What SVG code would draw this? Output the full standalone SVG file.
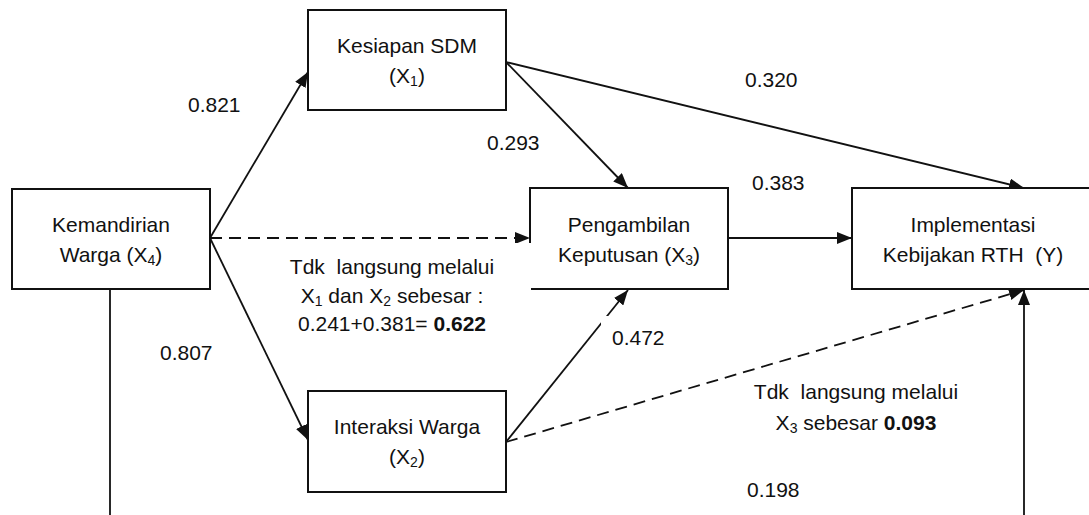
<svg xmlns="http://www.w3.org/2000/svg" width="1089" height="515" viewBox="0 0 1089 515">
<defs>
<marker id="arr" markerUnits="userSpaceOnUse" markerWidth="16" markerHeight="12" refX="15" refY="6" orient="auto">
<path d="M0,0 L15,6 L0,12 z" fill="#111"/>
</marker>
<style>
.box{fill:#fff;stroke:#111;stroke-width:2}
.ln{fill:none;stroke:#111;stroke-width:1.8}
.dash{stroke-dasharray:12 7}
text{font-family:"Liberation Sans",Arial,sans-serif;font-size:21px;fill:#111}
.c{text-anchor:middle}
.b{font-weight:bold}
.sub{font-size:14px}
</style>
</defs>
<rect width="1089" height="515" fill="#fff"/>
<g id="connectors">
<path class="ln" d="M210,238 L308,72" marker-end="url(#arr)"/>
<path class="ln dash" d="M210,238 L530,238" marker-end="url(#arr)"/>
<path class="ln" d="M210,238 L308,440" marker-end="url(#arr)"/>
<path class="ln" d="M506,62 L628,188" marker-end="url(#arr)"/>
<path class="ln" d="M506,62 L1024,188" marker-end="url(#arr)"/>
<path class="ln" d="M728,238 L852,238" marker-end="url(#arr)"/>
<path class="ln" d="M506,442 L628,290" marker-end="url(#arr)"/>
<path class="ln dash" d="M506,442 L1024,290" marker-end="url(#arr)"/>
<path class="ln" d="M110,289 L110,515"/>
<path class="ln" d="M1024,515 L1024,290" marker-end="url(#arr)"/>
</g>
<g id="node-x4">
<rect class="box" x="12" y="189" width="198" height="100"/>
<text class="c" x="111" y="232">Kemandirian</text>
<text class="c" x="111" y="262">Warga (X<tspan class="sub" baseline-shift="-3">4</tspan>)</text>
</g>
<g id="node-x1">
<rect class="box" x="308" y="10" width="198" height="100"/>
<text class="c" x="407" y="53">Kesiapan SDM</text>
<text class="c" x="407" y="83">(X<tspan class="sub" baseline-shift="-3">1</tspan>)</text>
</g>
<g id="node-x3">
<rect class="box" x="530" y="188" width="198" height="101"/>
<text class="c" x="629" y="232">Pengambilan</text>
<text class="c" x="629" y="262">Keputusan (X<tspan class="sub" baseline-shift="-3">3</tspan>)</text>
</g>
<g id="node-y">
<rect class="box" x="852" y="188" width="244" height="101"/>
<text class="c" x="973" y="232">Implementasi</text>
<text class="c" x="973" y="262">Kebijakan RTH&#160; (Y)</text>
</g>
<g id="node-x2">
<rect class="box" x="308" y="391" width="198" height="101"/>
<text class="c" x="407" y="434">Interaksi Warga</text>
<text class="c" x="407" y="464">(X<tspan class="sub" baseline-shift="-3">2</tspan>)</text>
</g>
<g id="labels">
<text x="188" y="112">0.821</text>
<text x="745" y="87">0.320</text>
<text x="487" y="150">0.293</text>
<text x="752" y="190">0.383</text>
<text x="160" y="360">0.807</text>
<rect x="601" y="316" width="80" height="40" fill="#fff"/>
<text x="612" y="345">0.472</text>
<rect x="285" y="243" width="246" height="96" fill="#fff"/>
<text class="c" x="392" y="274">Tdk&#160; langsung melalui</text>
<text class="c" x="392" y="303">X<tspan class="sub" baseline-shift="-3">1</tspan> dan X<tspan class="sub" baseline-shift="-3">2</tspan> sebesar :</text>
<text class="c" x="392" y="331">0.241+0.381= <tspan class="b">0.622</tspan></text>
<text class="c" x="856" y="399">Tdk&#160; langsung melalui</text>
<text class="c" x="856" y="430">X<tspan class="sub" baseline-shift="-3">3</tspan> sebesar <tspan class="b">0.093</tspan></text>
<text x="747" y="497">0.198</text>
</g>
</svg>
